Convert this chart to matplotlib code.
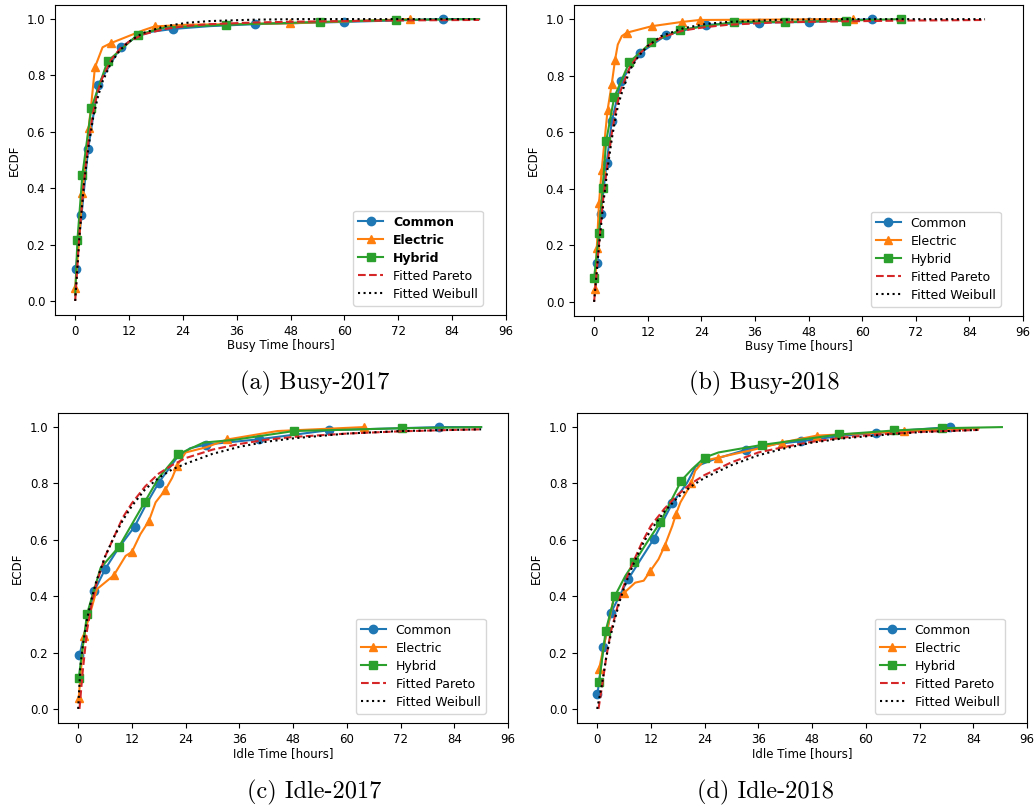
import numpy as np
from matplotlib import pyplot as plt

# ---- (a) Busy-2017 ----
busy17_common_x = [0.15, 1.4, 2.9, 5.1, 10.1, 14, 17, 21.8, 30, 40, 60, 82, 90]
busy17_common_y = [0.113, 0.304, 0.54, 0.767, 0.90, 0.94, 0.955, 0.965, 0.975, 0.982, 0.99, 1.0, 1.0]
busy17_common_mk = [0, 1, 2, 3, 4, 7, 9, 10, 11]
busy17_electric_x = [0.0, 0.8, 1.6, 3.0, 3.6, 4.4, 6.1, 8.0, 15.1, 17.7, 25, 47.9, 74.7]
busy17_electric_y = [0.046, 0.2, 0.384, 0.614, 0.70, 0.829, 0.90, 0.915, 0.96, 0.974, 0.98, 0.985, 1.0]
busy17_electric_mk = [0, 2, 3, 5, 7, 9, 11, 12]
busy17_hybrid_x = [0.0, 0.5, 1.6, 3.6, 7.2, 13.9, 20, 33.7, 54.6, 71.4, 90]
busy17_hybrid_y = [0.02, 0.217, 0.447, 0.685, 0.85, 0.944, 0.97, 0.98, 0.99, 0.997, 1.0]
busy17_hybrid_mk = [1, 2, 3, 4, 5, 7, 8, 9]
busy17_fit_x = [0, 0.5, 1, 2, 3, 4, 5, 6, 8, 10, 12, 15, 20, 25, 30, 40, 50, 60, 70, 80, 90]
busy17_pareto_y = [0, 0.13, 0.25, 0.43, 0.57, 0.67, 0.74, 0.79, 0.855, 0.895, 0.92, 0.945, 0.965, 0.976,
                   0.982, 0.988, 0.991, 0.993, 0.995, 0.996, 0.997]
busy17_weibull_y = [0, 0.12, 0.24, 0.42, 0.55, 0.65, 0.72, 0.775, 0.845, 0.89, 0.92, 0.95, 0.975, 0.987,
                    0.993, 0.998, 1, 1, 1, 1, 1]

# ---- (b) Busy-2018 ----
busy18_common_x = [0.74, 1.5, 2.8, 3.96, 6.0, 10.3, 16.1, 20, 25.1, 36.9, 48.1, 62.3]
busy18_common_y = [0.137, 0.311, 0.49, 0.638, 0.78, 0.88, 0.943, 0.96, 0.98, 0.988, 0.99, 1.0]
busy18_common_mk = [0, 1, 2, 3, 4, 5, 6, 8, 9, 10, 11]
busy18_electric_x = [0.22, 0.6, 1.1, 1.7, 3.0, 3.96, 4.7, 5.3, 6.2, 7.3, 12.9, 19.6, 23.6, 57.9]
busy18_electric_y = [0.044, 0.19, 0.35, 0.466, 0.677, 0.772, 0.857, 0.91, 0.94, 0.952, 0.975, 0.99, 0.997, 1.0]
busy18_electric_mk = [0, 1, 2, 3, 4, 5, 6, 9, 10, 11, 12, 13]
busy18_hybrid_x = [0.0, 1.1, 1.9, 2.7, 4.5, 7.9, 12.8, 19.3, 31.4, 42.8, 56.3, 68.7]
busy18_hybrid_y = [0.084, 0.244, 0.403, 0.568, 0.724, 0.848, 0.918, 0.962, 0.99, 0.99, 0.995, 1.0]
busy18_hybrid_mk = [0, 1, 2, 3, 4, 5, 6, 7, 8, 9, 10, 11]
busy18_fit_x = [0, 0.5, 1, 2, 3, 4, 5, 6, 8, 10, 12, 15, 20, 25, 30, 40, 50, 60, 70, 80, 87.5]
busy18_pareto_y = [0, 0.09, 0.19, 0.36, 0.49, 0.6, 0.69, 0.75, 0.83, 0.875, 0.905, 0.935, 0.96, 0.972,
                   0.98, 0.988, 0.991, 0.993, 0.995, 0.996, 0.997]
busy18_weibull_y = [0, 0.09, 0.18, 0.34, 0.47, 0.58, 0.67, 0.73, 0.82, 0.87, 0.905, 0.94, 0.968, 0.983,
                    0.99, 0.997, 1, 1, 1, 1, 1]

# ---- (c) Idle-2017 ----
idle17_common_x = [0.3, 3.6, 6.1, 9, 12.6, 15, 18.0, 22, 25, 28.5, 40.5, 56.0, 80.7, 90]
idle17_common_y = [0.19, 0.419, 0.498, 0.57, 0.647, 0.72, 0.803, 0.89, 0.925, 0.938, 0.957, 0.989, 1.0, 1.0]
idle17_common_mk = [0, 1, 2, 4, 6, 9, 10, 11, 12]
idle17_electric_x = [0.14, 1.25, 4.2, 7.96, 10.6, 12.0, 13.9, 15.8, 17.3, 19.5, 21, 22.1, 24, 28.5, 33.3,
                     44.5, 63.8]
idle17_electric_y = [0.04, 0.26, 0.425, 0.474, 0.543, 0.557, 0.62, 0.667, 0.733, 0.778, 0.82, 0.863, 0.91,
                     0.928, 0.956, 0.986, 1.0]
idle17_electric_mk = [0, 1, 3, 5, 7, 9, 11, 14, 16]
idle17_hybrid_x = [0.14, 2.0, 5, 9.1, 14.9, 18, 22.4, 28, 35, 48.2, 72.3, 90]
idle17_hybrid_y = [0.111, 0.338, 0.5, 0.575, 0.735, 0.82, 0.904, 0.945, 0.955, 0.986, 0.996, 1.0]
idle17_hybrid_mk = [0, 1, 3, 4, 6, 9, 10]
idle17_pareto_x = [0.3, 1, 2, 3, 4, 6, 8, 10, 12, 15, 18, 21, 24, 30, 36, 42, 48, 60, 72, 84, 90]
idle17_pareto_y = [0, 0.13, 0.28, 0.37, 0.44, 0.54, 0.61, 0.68, 0.73, 0.79, 0.835, 0.865, 0.89, 0.92,
                   0.94, 0.955, 0.965, 0.977, 0.985, 0.99, 0.992]
idle17_weibull_x = [0, 0.5, 1, 2, 3, 4, 6, 8, 10, 12, 15, 18, 21, 24, 30, 36, 42, 48, 60, 72, 84, 90]
idle17_weibull_y = [0, 0.15, 0.22, 0.32, 0.39, 0.45, 0.54, 0.61, 0.67, 0.72, 0.78, 0.82, 0.85, 0.87,
                    0.905, 0.93, 0.948, 0.96, 0.977, 0.986, 0.99, 0.992]

# ---- (d) Idle-2018 ----
idle18_common_x = [0.07, 1.4, 3.1, 6.9, 12.6, 16.8, 20, 22, 26, 33.3, 40, 45.6, 55, 62.3, 70, 78.8]
idle18_common_y = [0.052, 0.218, 0.342, 0.46, 0.602, 0.73, 0.8, 0.86, 0.885, 0.92, 0.94, 0.95, 0.97,
                   0.979, 0.99, 1.0]
idle18_common_mk = [0, 1, 2, 3, 4, 5, 9, 11, 13, 15]
idle18_electric_x = [0.45, 3.65, 6.1, 8.5, 10.4, 11.9, 13.7, 15.1, 16.8, 17.6, 18.6, 20.1, 21.0, 21.9,
                     23.8, 27.1, 35, 41.2, 49.1, 60, 68.6, 85.2]
idle18_electric_y = [0.143, 0.389, 0.413, 0.448, 0.455, 0.49, 0.531, 0.579, 0.65, 0.691, 0.733, 0.774,
                     0.80, 0.845, 0.88, 0.892, 0.92, 0.945, 0.97, 0.978, 0.985, 0.996]
idle18_electric_mk = [0, 2, 5, 7, 9, 12, 15, 17, 18, 20]
idle18_hybrid_x = [0.45, 1.9, 3.9, 6.3, 8.3, 11.1, 14.1, 16.3, 18.8, 21.2, 24.0, 27.1, 36.9, 54.1, 66.4,
                   77.0, 90.4]
idle18_hybrid_y = [0.096, 0.277, 0.399, 0.472, 0.52, 0.59, 0.662, 0.732, 0.81, 0.851, 0.892, 0.91, 0.937,
                   0.974, 0.988, 0.996, 1.0]
idle18_hybrid_mk = [0, 1, 2, 4, 6, 8, 10, 12, 13, 14, 15]
idle18_pareto_x = [0.3, 1, 2, 3, 4, 5, 6, 8, 10, 12, 15, 18, 21, 24, 30, 36, 42, 48, 55, 62, 72, 85.2]
idle18_pareto_y = [0, 0.07, 0.18, 0.27, 0.33, 0.39, 0.44, 0.52, 0.59, 0.65, 0.71, 0.76, 0.8, 0.83, 0.875,
                   0.91, 0.93, 0.948, 0.963, 0.973, 0.983, 0.99]
idle18_weibull_x = [0, 1, 2, 3, 4, 5, 6, 8, 10, 12, 15, 18, 21, 24, 30, 36, 42, 48, 55, 62, 72, 85.2]
idle18_weibull_y = [0, 0.08, 0.18, 0.26, 0.32, 0.38, 0.43, 0.51, 0.58, 0.635, 0.7, 0.75, 0.79, 0.82,
                    0.865, 0.9, 0.925, 0.945, 0.96, 0.97, 0.982, 0.99]

x_ticks = [0, 12, 24, 36, 48, 60, 72, 84, 96]
y_ticks = [0.0, 0.2, 0.4, 0.6, 0.8, 1.0]

W, H = 1036, 808


def px_axes(fig, left, top, right, bottom):
    return fig.add_axes([left / W, 1 - bottom / H, (right - left) / W, (bottom - top) / H])


def draw_panel(ax, common, electric, hybrid, pareto, weibull, xlabel, leg_right, bold_names=False):
    ax.plot(common[0], common[1], '-o', color='tab:blue', ms=6, lw=1.5, markevery=common[2], label='Common')
    ax.plot(electric[0], electric[1], '-^', color='tab:orange', ms=6, lw=1.5, markevery=electric[2], label='Electric')
    ax.plot(hybrid[0], hybrid[1], '-s', color='tab:green', ms=6, lw=1.5, markevery=hybrid[2], label='Hybrid')
    ax.plot(pareto[0], pareto[1], '--', color='tab:red', lw=1.5, label='Fitted Pareto')
    ax.plot(weibull[0], weibull[1], ':', color='k', lw=1.5, label='Fitted Weibull')
    ax.set_xlim(-4.5, 96)
    ax.set_ylim(-0.05, 1.05)
    ax.set_xticks(x_ticks)
    ax.set_yticks(y_ticks)
    ax.tick_params(labelsize=8.5)
    ax.set_xlabel(xlabel, fontsize=8.5, labelpad=1)
    ax.set_ylabel('ECDF', fontsize=8.5)
    leg = ax.legend(loc='lower right', bbox_to_anchor=(leg_right, 0.03), borderaxespad=0,
                    fontsize=9, labelspacing=0.4)
    if bold_names:
        for t in leg.get_texts()[:3]:
            t.set_fontweight('bold')


fig = plt.figure(figsize=(W / 100, H / 100), dpi=100)

ax_a = px_axes(fig, 55, 5, 506, 315)
draw_panel(ax_a,
           (busy17_common_x, busy17_common_y, busy17_common_mk),
           (busy17_electric_x, busy17_electric_y, busy17_electric_mk),
           (busy17_hybrid_x, busy17_hybrid_y, busy17_hybrid_mk),
           (busy17_fit_x, busy17_pareto_y), (busy17_fit_x, busy17_weibull_y),
           'Busy Time [hours]', 0.949, bold_names=True)

ax_b = px_axes(fig, 574, 5, 1023, 316)
draw_panel(ax_b,
           (busy18_common_x, busy18_common_y, busy18_common_mk),
           (busy18_electric_x, busy18_electric_y, busy18_electric_mk),
           (busy18_hybrid_x, busy18_hybrid_y, busy18_hybrid_mk),
           (busy18_fit_x, busy18_pareto_y), (busy18_fit_x, busy18_weibull_y),
           'Busy Time [hours]', 0.95)

ax_c = px_axes(fig, 58, 413, 508, 723)
draw_panel(ax_c,
           (idle17_common_x, idle17_common_y, idle17_common_mk),
           (idle17_electric_x, idle17_electric_y, idle17_electric_mk),
           (idle17_hybrid_x, idle17_hybrid_y, idle17_hybrid_mk),
           (idle17_pareto_x, idle17_pareto_y), (idle17_weibull_x, idle17_weibull_y),
           'Idle Time [hours]', 0.95)

ax_d = px_axes(fig, 577, 413, 1027, 723)
draw_panel(ax_d,
           (idle18_common_x, idle18_common_y, idle18_common_mk),
           (idle18_electric_x, idle18_electric_y, idle18_electric_mk),
           (idle18_hybrid_x, idle18_hybrid_y, idle18_hybrid_mk),
           (idle18_pareto_x, idle18_pareto_y), (idle18_weibull_x, idle18_weibull_y),
           'Idle Time [hours]', 0.95)

# sub-figure captions
captions = ['(a) Busy-2017', '(b) Busy-2018', '(c) Idle-2017', '(d) Idle-2018']
cap_pos = [(315, 383), (764, 383), (314, 792), (765, 792)]
for cap, (cx, cy) in zip(captions, cap_pos):
    fig.text(cx / W, 1 - cy / H, cap, ha='center', va='center', fontsize=17.5, family='cmr10')

fig.savefig('out.png', dpi=100)
